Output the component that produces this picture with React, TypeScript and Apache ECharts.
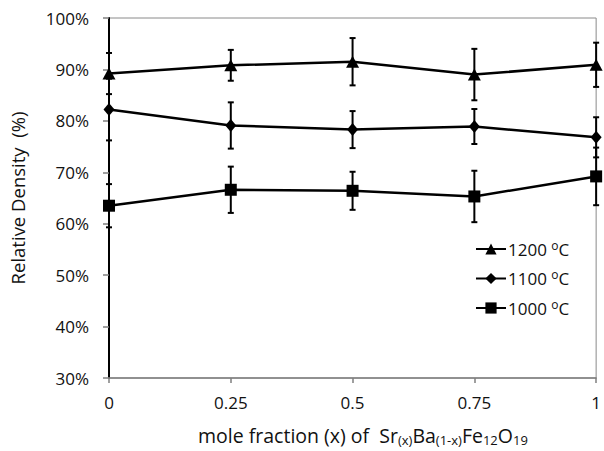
import React, { useEffect, useRef } from 'react';
import * as echarts from 'echarts';

const xValues = [0, 0.25, 0.5, 0.75, 1];
const seriesNames = ['1200 °C', '1100 °C', '1000 °C'];
const d1200 = [89.2, 90.8, 91.5, 89.0, 90.9];
const e1200 = [4.0, 3.0, 4.6, 5.0, 4.3];
const d1100 = [82.2, 79.1, 78.3, 78.9, 76.8];
const e1100 = [6.0, 4.5, 3.6, 3.4, 3.9];
const d1000 = [63.5, 66.6, 66.4, 65.3, 69.2];
const e1000 = [4.2, 4.5, 3.7, 5.0, 5.6];
const symbols = ['triangle', 'diamond', 'rect'];
const symbolSizes = [[13, 12], [11, 13], [12, 12]];

const FONT = 'Open Sans';

export default function App() {
  const ref = useRef<HTMLDivElement>(null);
  useEffect(() => {
    const chart = echarts.init(ref.current!, null, { renderer: 'svg' });
    const values = [d1200, d1100, d1000];
    const errors = [e1200, e1100, e1000];

    const lineSeries = values.map((vals, i) => ({
      name: seriesNames[i],
      type: 'line',
      data: xValues.map((x, j) => [x, vals[j]]),
      symbol: symbols[i],
      symbolSize: symbolSizes[i],
      showAllSymbol: true,
      lineStyle: { color: '#000', width: 2.5 },
      itemStyle: { color: '#000' },
      z: 3,
      clip: false,
    }));

    const errSeries = values.map((vals, i) => ({
      name: seriesNames[i] + ' err',
      type: 'custom',
      data: xValues.map((x, j) => [x, vals[j] - errors[i][j], vals[j] + errors[i][j]]),
      encode: { x: 0, y: [1, 2] },
      z: 2,
      clip: false,
      renderItem: (params: any, api: any) => {
        const x = api.value(0);
        const lo = api.coord([x, api.value(1)]);
        const hi = api.coord([x, api.value(2)]);
        const w = 3;
        const style = { stroke: '#000', lineWidth: 2 };
        return {
          type: 'group',
          children: [
            { type: 'line', shape: { x1: lo[0], y1: lo[1], x2: hi[0], y2: hi[1] }, style },
            { type: 'line', shape: { x1: lo[0] - w, y1: lo[1], x2: lo[0] + w, y2: lo[1] }, style },
            { type: 'line', shape: { x1: hi[0] - w, y1: hi[1], x2: hi[0] + w, y2: hi[1] }, style },
          ],
        };
      },
    }));

    chart.setOption({
      animation: false,
      backgroundColor: '#fff',
      grid: {
        left: 105,
        right: 3,
        top: 18,
        bottom: 73,
        show: true,
        borderColor: '#8a8a8a',
        borderWidth: 1,
      },
      legend: {
        data: seriesNames,
        orient: 'vertical',
        left: 475,
        top: 239,
        padding: 0,
        itemWidth: 30,
        itemHeight: 14,
        itemGap: 11,
        formatter: (name: string) => `${name.split(' ')[0]} {sup|o}C`,
        textStyle: {
          fontFamily: FONT,
          fontSize: 17,
          color: '#111',
          padding: [0, 0, 0, -3],
          rich: {
            sup: { fontFamily: FONT, fontSize: 12, color: '#111', verticalAlign: 'top', padding: [0, 0, 8, 0] },
          },
        },
      },
      xAxis: {
        type: 'value',
        min: 0,
        max: 1,
        interval: 0.25,
        axisLine: { onZero: false, lineStyle: { color: '#7f7f7f', width: 1.5 } },
        axisTick: { show: true, length: 5, lineStyle: { color: '#7f7f7f', width: 1.5 } },
        splitLine: { show: false },
        axisLabel: {
          margin: 16,
          fontFamily: FONT,
          fontSize: 17,
          color: '#111',
          formatter: (v: number) => String(v),
        },
      },
      yAxis: {
        type: 'value',
        min: 30,
        max: 100,
        interval: 10,
        name: 'Relative Density  (%)',
        nameLocation: 'middle',
        nameGap: 82,
        nameTextStyle: { fontFamily: FONT, fontSize: 18.5, color: '#111' },
        axisLine: { show: true, lineStyle: { color: '#000', width: 2 } },
        axisTick: { show: true, length: 6, lineStyle: { color: '#7f7f7f', width: 1.5 } },
        splitLine: { show: false },
        axisLabel: {
          margin: 20,
          fontFamily: FONT,
          fontSize: 17,
          color: '#111',
          formatter: '{value}%',
        },
      },
      graphic: [
        {
          type: 'text',
          left: 198,
          top: 425,
          style: {
            text: 'mole fraction (x) of  Sr{sub|(x)}Ba{sub|(1-x)}Fe{sub|12}O{sub|19}',
            fontFamily: FONT,
            fontSize: 19.5,
            fill: '#111',
            rich: {
              sub: { fontFamily: FONT, fontSize: 13, fill: '#111', verticalAlign: 'bottom', padding: [9, 0, 0, 0] },
            },
          },
        },
      ],
      series: [...errSeries, ...lineSeries],
    } as any);
    return () => chart.dispose();
  }, []);
  return <div ref={ref} style={{ position: 'fixed', left: 0, top: 0, width: 604, height: 451 }} />;
}
